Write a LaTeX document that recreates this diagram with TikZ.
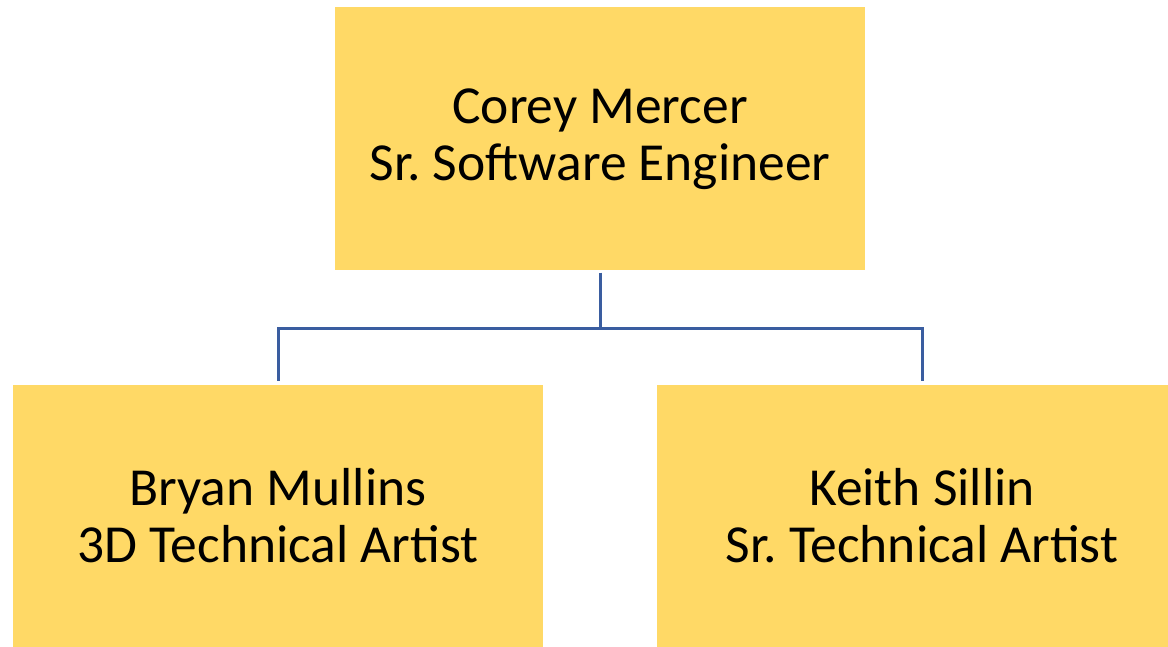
\documentclass[tikz,border=0pt]{standalone}
\usepackage{fontspec}
\setmainfont{Carlito}
\usepackage{tikz}

\definecolor{boxfill}{HTML}{FFD966}
\definecolor{linkblue}{HTML}{3A5DA0}

\begin{document}
\frenchspacing
\begin{tikzpicture}[
    x=1pt, y=-1pt,
    person/.style={rectangle, fill=boxfill, minimum width=530pt, minimum height=263pt, align=center, font=\fontsize{53.5}{57}\selectfont, inner sep=0pt},
    link/.style={draw=linkblue, line width=3pt, shorten <=2pt}
]
    \path[use as bounding box, clip] (0,0) rectangle (1168,647);

    \node[person] (corey) at (600,139) {Corey Mercer\\Sr. Software Engineer};
    \node[person] (bryan) at (278,516) {Bryan Mullins\\3D Technical Artist};
    \node[person] (keith) at (922,516) {Keith Sillin\\Sr. Technical Artist};

    \coordinate (split) at (600,328);

    \draw[link] (corey.south) -- (split);
    \draw[link, shorten <=0pt, shorten >=3pt] (split) -| (bryan.north);
    \draw[link, shorten <=0pt, shorten >=3pt] (split) -| (keith.north);

\end{tikzpicture}
\end{document}
